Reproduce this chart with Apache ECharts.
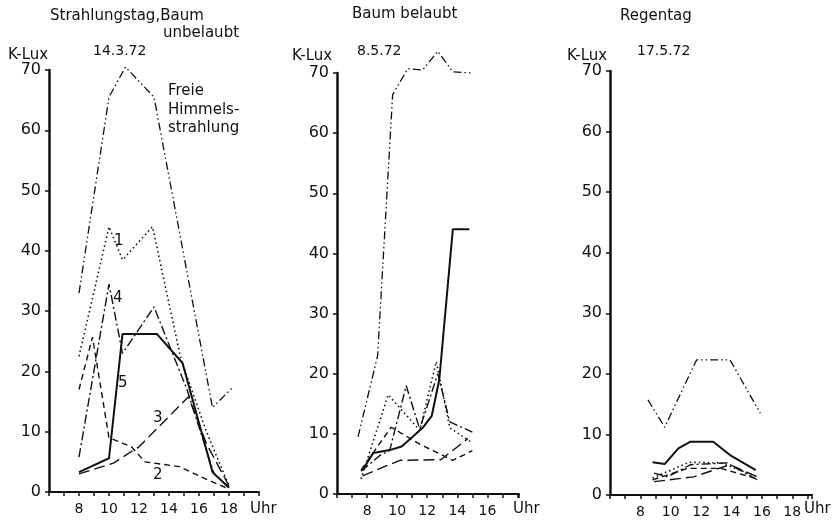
<!DOCTYPE html>
<html>
<head>
<meta charset="utf-8">
<script src="https://cdn.jsdelivr.net/npm/echarts@6/dist/echarts.min.js"></script>
<style>
  html, body { margin: 0; padding: 0; background: #fff; }
  #chart { width: 836px; height: 521px; }
</style>
</head>
<body>
<div id="chart"></div>
<script>
// tick labels
const hourTicks = [8, 10, 12, 14, 16, 18];

// Strahlungstag, Baum unbelaubt (14.3.72) -- [Uhr, K-Lux]
const p1Freie = [[8, 33], [10, 65.5], [11.1, 70.5], [13, 65.5], [16.9, 14], [18.3, 17.5]];
const p1Line1 = [[8, 22.5], [10, 44], [10.9, 38.5], [12.9, 44], [14.8, 22], [16.5, 10], [18, 1]];
const p1Line2 = [[8, 17], [8.9, 25.7], [10, 9], [11.5, 7.5], [12.4, 5], [14.7, 4.2], [16.6, 2], [18, 0.5]];
const p1Line3 = [[8, 3], [10.3, 4.8], [12, 7.5], [15.3, 15.8], [16.5, 8], [18, 1]];
const p1Line4 = [[8, 5.8], [10, 34.5], [10.9, 23], [13, 30.7], [15.2, 17], [17, 3], [18, 0.8]];
const p1Line5 = [[8, 3.3], [10, 5.6], [10.9, 26.2], [13.2, 26.2], [14.9, 21.4], [16.9, 3.3], [18, 0.7]];

// Baum belaubt (8.5.72)
const p2Freie = [[7.4, 9.5], [8.7, 23], [9.7, 66.4], [10.7, 70.7], [11.7, 70.5], [12.7, 73.6], [13.7, 70.2], [14.9, 70]];
const p2Line1 = [[7.6, 2.5], [9.4, 16.5], [11.5, 10.6], [12.6, 22], [13.5, 11], [15, 8.5]];
const p2Line2 = [[7.6, 4], [9.6, 11.1], [11.5, 8.3], [13.7, 5.6], [15, 7.2]];
const p2Line3 = [[7.7, 3], [9.1, 4.5], [10.2, 5.6], [12.9, 5.7], [14.7, 9.2]];
const p2Line4 = [[7.6, 3.8], [8.9, 6.5], [9.5, 7.2], [10.6, 18], [11.5, 10.8], [12.7, 20], [13.5, 12], [15, 10.3]];
const p2Line5 = [[7.7, 4], [8.4, 6.8], [9.5, 7.3], [10.3, 7.9], [11.7, 11], [12.3, 13], [12.8, 19], [13.7, 44], [14.8, 44]];

// Regentag (17.5.72)
const p3Freie = [[8.5, 15.7], [9.6, 11.2], [11.7, 22.3], [13.9, 22.3], [15.9, 13.5]];
const p3Line1 = [[8.8, 2.8], [11.2, 5.4], [13.3, 5.3], [15.7, 3]];
const p3Line2 = [[8.8, 2.5], [11.1, 4.4], [13.3, 4.4], [15.5, 2.8]];
const p3Line3 = [[8.9, 2.2], [11.5, 3], [13.9, 5], [15.7, 3]];
const p3Line4 = [[8.9, 3.6], [9.8, 3], [11.3, 5], [13.7, 5.3], [15.7, 2.5]];
const p3Line5 = [[8.8, 5.4], [9.6, 5.1], [10.5, 7.7], [11.3, 8.8], [12.8, 8.8], [13.9, 6.6], [15.6, 4.1]];

const font = 'DejaVu Sans';
const ink = '#111';

const styles = {
  freie: { type: [8, 3, 1.5, 3, 1.5, 3], width: 1.3 },
  l1: { type: [1.5, 3], width: 1.6 },
  l2: { type: [6, 4], width: 1.4 },
  l3: { type: [11, 5], width: 1.4 },
  l4: { type: [9, 3, 2, 3], width: 1.4 },
  l5: { type: 'solid', width: 2 }
};

function line(data, key, idx) {
  return {
    type: 'line',
    xAxisIndex: idx,
    yAxisIndex: idx,
    data: data,
    symbol: 'none',
    silent: true,
    clip: false,
    lineStyle: Object.assign({ color: ink }, styles[key])
  };
}

function xAx(idx, max, lastLabel) {
  return {
    type: 'value', gridIndex: idx, min: 6, max: max, interval: 1,
    splitLine: { show: false },
    axisLine: { lineStyle: { color: ink, width: 2 } },
    axisTick: { length: 4, lineStyle: { color: ink, width: 1.5 } },
    axisLabel: {
      color: ink, fontFamily: font, fontSize: 14, margin: 10,
      formatter: v => hourTicks.indexOf(v) >= 0 && v <= lastLabel ? String(v) : ''
    }
  };
}

function yAx(idx) {
  return {
    type: 'value', gridIndex: idx, min: 0, max: 70, interval: 10,
    splitLine: { show: false },
    axisLine: { show: true, lineStyle: { color: ink, width: 2.5 } },
    axisTick: { show: true, length: 4, lineStyle: { color: ink, width: 1.5 } },
    axisLabel: { color: ink, fontFamily: font, fontSize: 16, margin: 8 }
  };
}

function txt(x, y, s, size) {
  return {
    type: 'text', left: x, top: y, silent: true,
    style: { text: s, fill: ink, font: (size || 14) + 'px "' + font + '"' }
  };
}

const chart = echarts.init(document.getElementById('chart'), null, { renderer: 'canvas' });
chart.setOption({
  backgroundColor: '#fff',
  animation: false,
  grid: [
    { left: 49, top: 70, width: 210, height: 422 },
    { left: 337, top: 73, width: 182, height: 421 },
    { left: 610, top: 71, width: 202, height: 424 }
  ],
  xAxis: [xAx(0, 20, 18), xAx(1, 18.1, 16), xAx(2, 19.3, 18)],
  yAxis: [yAx(0), yAx(1), yAx(2)],
  series: [
    line(p1Freie, 'freie', 0), line(p1Line1, 'l1', 0), line(p1Line2, 'l2', 0),
    line(p1Line3, 'l3', 0), line(p1Line4, 'l4', 0), line(p1Line5, 'l5', 0),
    line(p2Freie, 'freie', 1), line(p2Line1, 'l1', 1), line(p2Line2, 'l2', 1),
    line(p2Line3, 'l3', 1), line(p2Line4, 'l4', 1), line(p2Line5, 'l5', 1),
    line(p3Freie, 'freie', 2), line(p3Line1, 'l1', 2), line(p3Line2, 'l2', 2),
    line(p3Line3, 'l3', 2), line(p3Line4, 'l4', 2), line(p3Line5, 'l5', 2)
  ],
  graphic: [
    txt(50, 9, 'Strahlungstag,Baum', 15),
    txt(163, 26, 'unbelaubt', 15),
    txt(93, 44, '14.3.72', 14),
    txt(8, 48, 'K-Lux', 15),
    txt(168, 84, 'Freie', 15),
    txt(168, 103, 'Himmels-', 15),
    txt(168, 121, 'strahlung', 15),
    txt(114, 234, '1', 15),
    txt(113, 291, '4', 15),
    txt(118, 376, '5', 15),
    txt(153, 411, '3', 15),
    txt(153, 468, '2', 15),
    txt(250, 502, 'Uhr', 15),

    txt(352, 7, 'Baum belaubt', 15),
    txt(357, 44, '8.5.72', 14),
    txt(292, 49, 'K-Lux', 15),
    txt(513, 502, 'Uhr', 15),

    txt(620, 9, 'Regentag', 15),
    txt(637, 44, '17.5.72', 14),
    txt(567, 49, 'K-Lux', 15),
    txt(804, 502, 'Uhr', 15)
  ]
});
</script>
</body>
</html>
